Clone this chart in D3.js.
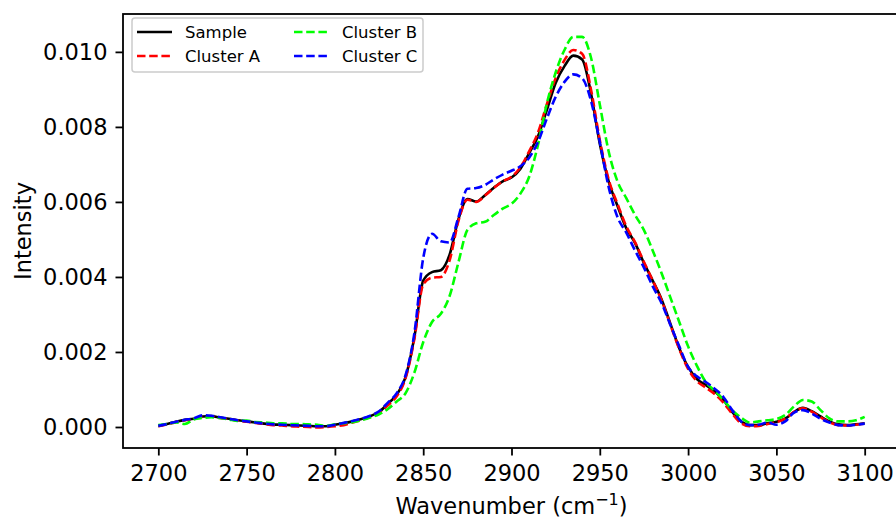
<!DOCTYPE html>
<html>
<head>
<meta charset="utf-8">
<script src="https://cdn.jsdelivr.net/npm/d3@7"></script>
<style>
  body { margin: 0; background: #fff; }
  svg { display: block; font-family: 'DejaVu Sans', sans-serif; }
</style>
</head>
<body>
<svg id="chart" width="896" height="519"></svg>
<script>
// Spectrum data (5 cm-1 spacing)
const wavenumbers = [
  2700, 2705, 2710, 2715, 2720, 2725, 2730, 2735, 2740, 2745,
  2750, 2755, 2760, 2765, 2770, 2775, 2780, 2785, 2790, 2795,
  2800, 2805, 2810, 2815, 2820, 2825, 2830, 2835, 2840, 2845,
  2850, 2855, 2860, 2865, 2870, 2875, 2880, 2885, 2890, 2895,
  2900, 2905, 2910, 2915, 2920, 2925, 2930, 2935, 2940, 2945,
  2950, 2955, 2960, 2965, 2970, 2975, 2980, 2985, 2990, 2995,
  3000, 3005, 3010, 3015, 3020, 3025, 3030, 3035, 3040, 3045,
  3050, 3055, 3060, 3065, 3070, 3075, 3080, 3085, 3090, 3095, 3100
]

const sample = [
  0.00003, 0.00008, 0.00014, 0.00019, 0.00022, 0.00028, 0.00029, 0.00025, 0.00022, 0.00018,
  0.00015, 0.00012, 0.00009, 0.00007, 0.00006, 0.00005, 0.00004, 0.00003, 0.00002, 0.00002,
  0.00006, 0.00010, 0.00015, 0.00021, 0.00029, 0.00040, 0.00062, 0.00086, 0.00133, 0.00240,
  0.00390, 0.00413, 0.00418, 0.00460, 0.00555, 0.00608, 0.00601, 0.00618, 0.00638, 0.00655,
  0.00665, 0.00688, 0.00730, 0.00775, 0.00845, 0.00917, 0.00962, 0.00990, 0.00980, 0.00890,
  0.00755, 0.00655, 0.00590, 0.00530, 0.00490, 0.00437, 0.00390, 0.00340, 0.00275, 0.00210,
  0.00160, 0.00128, 0.00112, 0.00095, 0.00072, 0.00040, 0.00015, 0.00005, 0.00005, 0.00010,
  0.00014, 0.00022, 0.00040, 0.00051, 0.00042, 0.00028, 0.00015, 0.00007, 0.00005, 0.00007, 0.00010
]

const clusterA = [
  0.00002, 0.00007, 0.00013, 0.00018, 0.00021, 0.00027, 0.00028, 0.00024, 0.00021, 0.00017,
  0.00014, 0.00011, 0.00008, 0.00005, 0.00004, 0.00002, 0.00001, 0.00000, -0.00001, 0.00000,
  0.00002, 0.00005, 0.00012, 0.00019, 0.00027, 0.00038, 0.00058, 0.00082, 0.00130, 0.00235,
  0.00380, 0.00398, 0.00400, 0.00445, 0.00550, 0.00606, 0.00600, 0.00617, 0.00637, 0.00655,
  0.00667, 0.00692, 0.00735, 0.00785, 0.00860, 0.00930, 0.00978, 0.01005, 0.00995, 0.00900,
  0.00765, 0.00660, 0.00595, 0.00535, 0.00492, 0.00440, 0.00390, 0.00338, 0.00272, 0.00208,
  0.00155, 0.00122, 0.00105, 0.00088, 0.00065, 0.00035, 0.00010, 0.00002, 0.00003, 0.00008,
  0.00013, 0.00022, 0.00040, 0.00050, 0.00041, 0.00026, 0.00013, 0.00005, 0.00004, 0.00006, 0.00009
]

const clusterB = [
  0.00005, 0.00008, 0.00012, 0.00008, 0.00020, 0.00024, 0.00026, 0.00024, 0.00020, 0.00016,
  0.00017, 0.00013, 0.00012, 0.00010, 0.00010, 0.00008, 0.00008, 0.00007, 0.00006, 0.00003,
  0.00007, 0.00010, 0.00013, 0.00018, 0.00025, 0.00034, 0.00048, 0.00068, 0.00090, 0.00145,
  0.00226, 0.00280, 0.00302, 0.00350, 0.00440, 0.00525, 0.00543, 0.00547, 0.00565, 0.00582,
  0.00595, 0.00622, 0.00667, 0.00752, 0.00862, 0.00945, 0.01005, 0.01040, 0.01040, 0.00985,
  0.00860, 0.00735, 0.00655, 0.00610, 0.00565, 0.00525, 0.00470, 0.00410, 0.00345, 0.00280,
  0.00215, 0.00163, 0.00120, 0.00097, 0.00072, 0.00045, 0.00025, 0.00012, 0.00015, 0.00018,
  0.00021, 0.00032, 0.00055, 0.00072, 0.00068, 0.00045, 0.00023, 0.00015, 0.00015, 0.00018, 0.00027
]

const clusterC = [
  0.00003, 0.00008, 0.00014, 0.00019, 0.00023, 0.00031, 0.00030, 0.00026, 0.00022, 0.00018,
  0.00015, 0.00012, 0.00009, 0.00007, 0.00006, 0.00005, 0.00004, 0.00003, 0.00002, 0.00002,
  0.00006, 0.00011, 0.00016, 0.00022, 0.00030, 0.00042, 0.00065, 0.00090, 0.00138, 0.00250,
  0.00450, 0.00515, 0.00495, 0.00492, 0.00560, 0.00635, 0.00637, 0.00645, 0.00660, 0.00673,
  0.00683, 0.00695, 0.00718, 0.00760, 0.00822, 0.00880, 0.00920, 0.00940, 0.00930, 0.00870,
  0.00760, 0.00640, 0.00560, 0.00518, 0.00470, 0.00425, 0.00375, 0.00330, 0.00272, 0.00215,
  0.00160, 0.00135, 0.00120, 0.00102, 0.00080, 0.00045, 0.00015, 0.00005, 0.00006, 0.00012,
  0.00006, 0.00015, 0.00038, 0.00045, 0.00036, 0.00022, 0.00012, 0.00005, 0.00004, 0.00006, 0.00009
]

const seriesNames = ['Sample', 'Cluster A', 'Cluster B', 'Cluster C']
const seriesColors = ['#000000', '#ff0000', '#00ff00', '#0000ff']
const xTicks = [2700, 2750, 2800, 2850, 2900, 2950, 3000, 3050, 3100]
const yTicks = [0, 0.002, 0.004, 0.006, 0.008, 0.010]

// Layout
const svg = d3.select('#chart')
const plot = { left: 123, top: 14, right: 900, bottom: 448 }
const fontSize = 22.5
const lineWidth = 2.6
const dash = '8.5,3.7'

const x = d3.scaleLinear().domain([2680, 3120]).range([plot.left, plot.right])
const y = d3.scaleLinear().domain([-0.00056, 0.01101]).range([plot.bottom, plot.top])

// Axes (ticks + labels), spines drawn separately
const xAxis = svg.append('g')
  .attr('transform', `translate(0, ${plot.bottom})`)
  .call(d3.axisBottom(x).tickValues(xTicks).tickFormat(d3.format('d')).tickSize(7.5).tickPadding(9.5))
const yAxis = svg.append('g')
  .attr('transform', `translate(${plot.left}, 0)`)
  .call(d3.axisLeft(y).tickValues(yTicks).tickFormat(d3.format('.3f')).tickSize(7.5).tickPadding(8))

;[xAxis, yAxis].forEach(a => {
  a.select('.domain').remove()
  a.selectAll('.tick line').attr('stroke', '#000').attr('stroke-width', 1.8)
  a.selectAll('.tick text')
    .attr('fill', '#000')
    .style('font-family', "'DejaVu Sans', sans-serif")
    .style('font-size', fontSize + 'px')
})

// Lines
const series = [sample, clusterA, clusterB, clusterC]
const line = d3.line()
  .x((d, i) => x(wavenumbers[i]))
  .y(d => y(d))
  .curve(d3.curveMonotoneX)

series.forEach((values, i) => {
  svg.append('path')
    .datum(values)
    .attr('fill', 'none')
    .attr('stroke', seriesColors[i])
    .attr('stroke-width', lineWidth)
    .attr('stroke-dasharray', i === 0 ? null : dash)
    .attr('d', line)
})

// Spines
svg.append('rect')
  .attr('x', plot.left)
  .attr('y', plot.top)
  .attr('width', plot.right - plot.left)
  .attr('height', plot.bottom - plot.top)
  .attr('fill', 'none')
  .attr('stroke', '#000')
  .attr('stroke-width', 1.8)

// Axis labels
const xLabel = svg.append('text')
  .attr('x', (plot.left + plot.right) / 2)
  .attr('y', 514)
  .attr('text-anchor', 'middle')
  .style('font-size', fontSize + 'px')
xLabel.append('tspan').text('Wavenumber (cm')
xLabel.append('tspan').attr('dy', -9).style('font-size', '16px').text('\u22121')
xLabel.append('tspan').attr('dy', 9).text(')')

svg.append('text')
  .attr('transform', `translate(31, ${(plot.top + plot.bottom) / 2}) rotate(-90)`)
  .attr('text-anchor', 'middle')
  .style('font-size', fontSize + 'px')
  .text('Intensity')

// Legend (2 columns, filled column-wise)
const legend = svg.append('g')
legend.append('rect')
  .attr('x', 132).attr('y', 18)
  .attr('width', 291).attr('height', 54)
  .attr('rx', 3)
  .attr('fill', 'rgba(255,255,255,0.8)')
  .attr('stroke', '#cccccc')
  .attr('stroke-width', 1.5)

const colX = [137, 294]
const rowY = [32, 56]
seriesNames.forEach((name, i) => {
  let cx = colX[Math.floor(i / 2)]
  let cy = rowY[i % 2]
  legend.append('line')
    .attr('x1', cx).attr('x2', cx + 35)
    .attr('y1', cy).attr('y2', cy)
    .attr('stroke', seriesColors[i])
    .attr('stroke-width', lineWidth)
    .attr('stroke-dasharray', i === 0 ? null : dash)
  legend.append('text')
    .attr('x', cx + 48)
    .attr('y', cy)
    .attr('dy', '0.36em')
    .style('font-size', '16.5px')
    .text(name)
})
</script>
</body>
</html>
